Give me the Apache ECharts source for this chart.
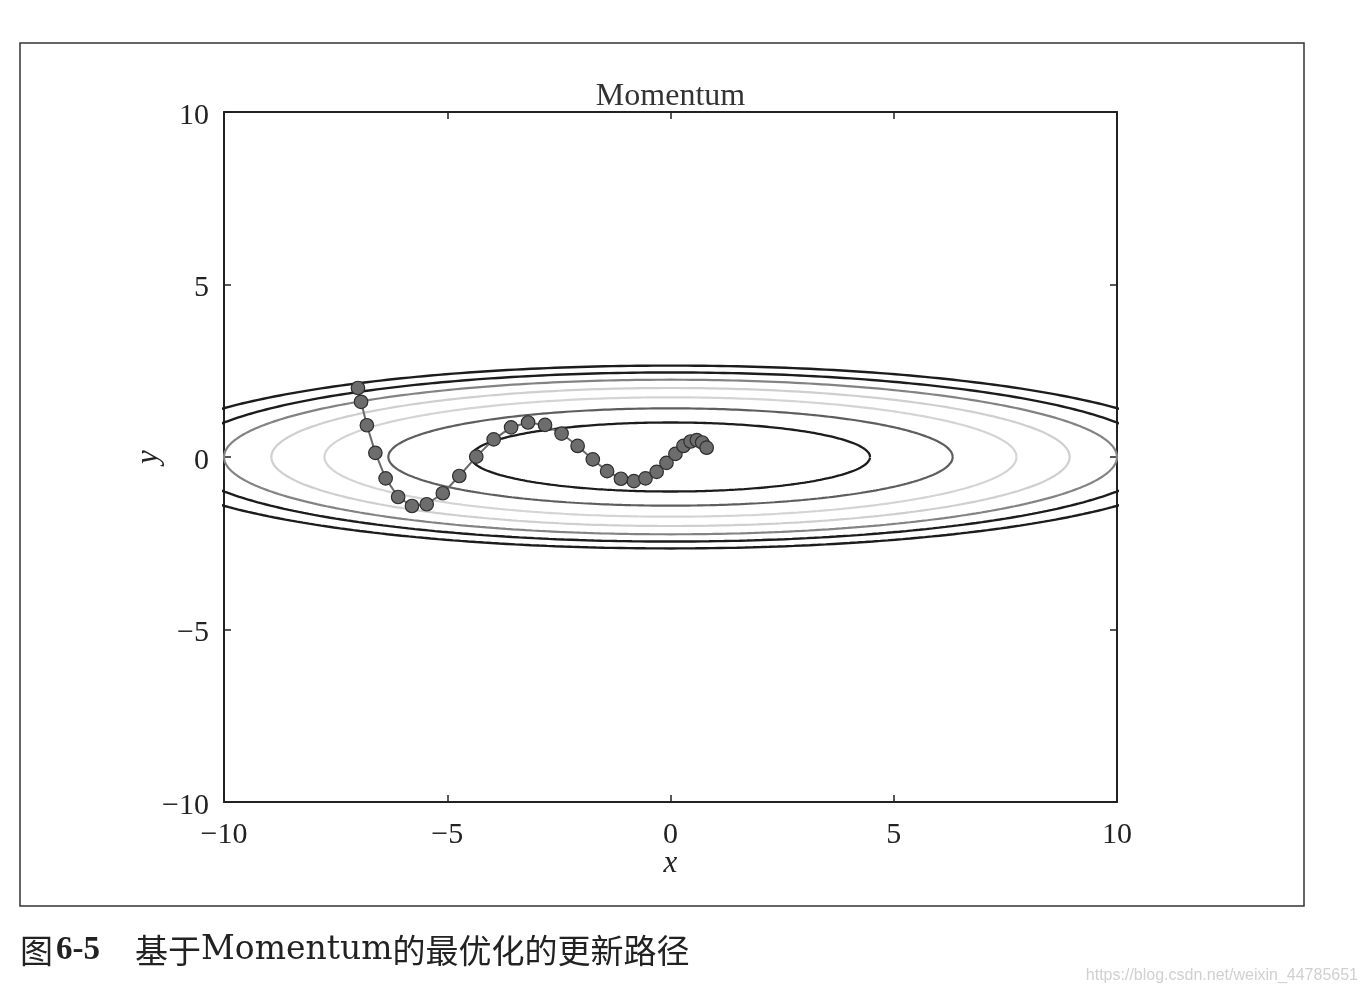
<!DOCTYPE html>
<html>
<head>
<meta charset="utf-8">
<script src="https://cdn.jsdelivr.net/npm/echarts@6/dist/echarts.min.js"></script>
<style>
html,body{margin:0;padding:0;background:#fff;}
#chart{width:1366px;height:996px;}
</style>
</head>
<body>
<div id="chart"></div>
<script>
// ---- data ----
var pathX = [-7.00, -6.93, -6.80, -6.61, -6.38, -6.10, -5.79, -5.46, -5.10, -4.73,
             -4.35, -3.96, -3.57, -3.19, -2.81, -2.44, -2.08, -1.74, -1.42, -1.11,
             -0.82, -0.56, -0.31, -0.09, 0.11, 0.29, 0.45, 0.59, 0.71, 0.81];
var pathY = [2.00, 1.60, 0.92, 0.12, -0.62, -1.16, -1.42, -1.37, -1.05, -0.55,
             0.01, 0.51, 0.86, 1.00, 0.93, 0.68, 0.32, -0.07, -0.41, -0.63,
             -0.70, -0.62, -0.43, -0.17, 0.09, 0.32, 0.45, 0.49, 0.42, 0.27];
// contour ellipses (semi-axes along x and y), innermost first
var contourRx = [4.47, 6.32, 7.75, 8.94, 10.00, 10.95, 11.83];
var contourRy = [1.00, 1.41, 1.73, 2.00, 2.24, 2.45, 2.65];
var contourColors = ['#1c1c1c', '#5e5e5e', '#d4d4d4', '#cfcfcf', '#838383', '#1c1c1c', '#1c1c1c'];
var contourWidths = [2.3, 2.2, 2.2, 2.2, 2.2, 2.4, 2.4];
var xTicks = [-10, -5, 0, 5, 10];
var yTicks = [-10, -5, 0, 5, 10];
var titleText = 'Momentum';
var xName = 'x';
var yName = 'y';

function minus(v){ return String(v).replace('-', '\u2212'); }

function ellipsePoints(rx, ry){
  var pts = [];
  var n = 400;
  for (var i = 0; i <= n; i++){
    var t = 2 * Math.PI * i / n;
    pts.push([rx * Math.cos(t), ry * Math.sin(t)]);
  }
  return pts;
}

var series = [];
for (var k = 0; k < contourRx.length; k++){
  series.push({
    type: 'line',
    data: ellipsePoints(contourRx[k], contourRy[k]),
    showSymbol: false,
    symbol: 'none',
    clip: true,
    silent: true,
    animation: false,
    lineStyle: {color: contourColors[k], width: contourWidths[k]},
    z: 2
  });
}
var pathData = pathX.map(function(x, i){ return [x, pathY[i]]; });
series.push({
  type: 'line',
  data: pathData,
  symbol: 'circle',
  symbolSize: 13.5,
  showSymbol: true,
  animation: false,
  lineStyle: {color: '#6a6a6a', width: 2},
  itemStyle: {color: '#6d6d6d', borderColor: '#2e2e2e', borderWidth: 1.2},
  z: 5
});

var axisColor = '#222';
var labelFont = {fontFamily: 'Liberation Serif', fontSize: 30, color: '#222'};

function baseAxis(extra){
  var a = {
    type: 'value', min: -10, max: 10, interval: 5,
    axisLine: {show: true, onZero: false, lineStyle: {color: axisColor, width: 2}},
    axisTick: {show: true, inside: true, length: 7, lineStyle: {color: axisColor, width: 1.5}},
    splitLine: {show: false},
    axisLabel: {show: false}
  };
  for (var key in extra) a[key] = extra[key];
  return a;
}

var chart = echarts.init(document.getElementById('chart'));
chart.setOption({
  animation: false,
  backgroundColor: '#fff',
  grid: {left: 224, top: 112, width: 893, height: 690, containLabel: false},
  xAxis: [
    baseAxis({position: 'bottom',
      axisLabel: Object.assign({show: true, margin: 18, formatter: minus}, labelFont)}),
    baseAxis({position: 'top'})
  ],
  yAxis: [
    baseAxis({position: 'left',
      axisLabel: Object.assign({show: true, margin: 15, formatter: minus, verticalAlign: 'top', lineHeight: 8}, labelFont)}),
    baseAxis({position: 'right'})
  ],
  series: series,
  graphic: [
    {type: 'rect', shape: {x: 20, y: 43, width: 1284, height: 863},
     style: {fill: 'none', stroke: '#333', lineWidth: 1.5}, silent: true, z: 0},
    {type: 'text', x: 670.5, y: 97,
     style: {text: titleText, fontFamily: 'Liberation Serif', fontSize: 32, fill: '#333',
             textAlign: 'center', textVerticalAlign: 'middle'}},
    {type: 'text', x: 670.5, y: 864,
     style: {text: xName, fontFamily: 'Liberation Serif', fontStyle: 'italic', fontSize: 31, fill: '#222',
             textAlign: 'center', textVerticalAlign: 'middle'}},
    {type: 'text', x: 149, y: 457, rotation: Math.PI / 2,
     style: {text: yName, fontFamily: 'Liberation Serif', fontStyle: 'italic', fontSize: 31, fill: '#222',
             textAlign: 'center', textVerticalAlign: 'middle'}},
    {type: 'text', x: 20, y: 950,
     style: {
       text: '{a|图}{b|6-5}{a|　基于}{c|Momentum}{a|的最优化的更新路径}',
       textVerticalAlign: 'middle', textAlign: 'left',
       rich: {
         a: {fontFamily: 'Noto Sans CJK SC', fontSize: 33, fill: '#222', color: '#222'},
         b: {fontFamily: 'Liberation Serif', fontWeight: 'bold', fontSize: 33, color: '#222', fill: '#222', padding: [0, 2, 0, 3]},
         c: {fontFamily: 'DejaVu Serif', fontSize: 33, color: '#222', fill: '#222'}
       }
     }},
    {type: 'text', x: 1358, y: 976,
     style: {text: 'https://blog.csdn.net/weixin_44785651', fontFamily: 'Liberation Sans',
             fontSize: 16, fill: '#d0d0d0', textAlign: 'right', textVerticalAlign: 'middle'}}
  ]
});
</script>
</body>
</html>
